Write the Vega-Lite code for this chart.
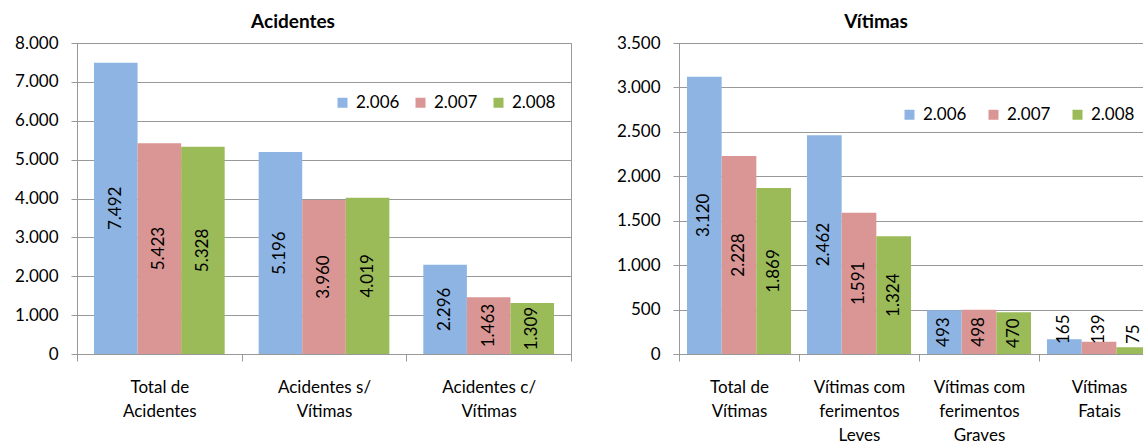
{
  "$schema": "https://vega.github.io/schema/vega-lite/v6.json",
  "background": "white",
  "padding": {"left": 14, "top": 12, "right": 0, "bottom": 0},
  "bounds": "flush",
  "spacing": 108,
  "datasets": {
    "acidentes": [
      {"cat": "Total de\nAcidentes", "ano": 2006, "v": 7492},
      {"cat": "Total de\nAcidentes", "ano": 2007, "v": 5423},
      {"cat": "Total de\nAcidentes", "ano": 2008, "v": 5328},
      {"cat": "Acidentes s/\nVítimas", "ano": 2006, "v": 5196},
      {"cat": "Acidentes s/\nVítimas", "ano": 2007, "v": 3960},
      {"cat": "Acidentes s/\nVítimas", "ano": 2008, "v": 4019},
      {"cat": "Acidentes c/\nVítimas", "ano": 2006, "v": 2296},
      {"cat": "Acidentes c/\nVítimas", "ano": 2007, "v": 1463},
      {"cat": "Acidentes c/\nVítimas", "ano": 2008, "v": 1309}
    ],
    "vitimas": [
      {"cat": "Total de\nVítimas", "ano": 2006, "v": 3120},
      {"cat": "Total de\nVítimas", "ano": 2007, "v": 2228},
      {"cat": "Total de\nVítimas", "ano": 2008, "v": 1869},
      {"cat": "Vítimas com\nferimentos\nLeves", "ano": 2006, "v": 2462},
      {"cat": "Vítimas com\nferimentos\nLeves", "ano": 2007, "v": 1591},
      {"cat": "Vítimas com\nferimentos\nLeves", "ano": 2008, "v": 1324},
      {"cat": "Vítimas com\nferimentos\nGraves", "ano": 2006, "v": 493},
      {"cat": "Vítimas com\nferimentos\nGraves", "ano": 2007, "v": 498},
      {"cat": "Vítimas com\nferimentos\nGraves", "ano": 2008, "v": 470},
      {"cat": "Vítimas\nFatais", "ano": 2006, "v": 165},
      {"cat": "Vítimas\nFatais", "ano": 2007, "v": 139},
      {"cat": "Vítimas\nFatais", "ano": 2008, "v": 75}
    ]
  },
  "config": {
    "locale": {"number": {"decimal": ",", "thousands": ".", "grouping": [3], "currency": ["R$", ""]}},
    "font": "Lato",
    "view": {"stroke": "#999999", "strokeWidth": 1},
    "axis": {
      "labelFont": "Lato",
      "labelFontSize": 17,
      "labelColor": "#000000",
      "domainColor": "#999999",
      "tickColor": "#999999",
      "gridColor": "#999999",
      "gridOpacity": 1
    },
    "title": {"font": "Lato", "fontSize": 19, "fontWeight": "bold", "color": "#000000", "anchor": "middle", "offset": 2},
    "legend": {
      "labelFont": "Lato",
      "labelFontSize": 17,
      "labelColor": "#000000",
      "symbolType": "square",
      "symbolSize": 100,
      "symbolStrokeWidth": 0,
      "labelOffset": 5
    }
  },
  "resolve": {"scale": {"color": "independent", "xOffset": "independent"}},
  "hconcat": [
    {
      "width": 494,
      "height": 311,
      "title": {"text": "Acidentes", "dx": -31},
      "data": {"name": "acidentes"},
      "encoding": {
        "x": {
          "field": "cat", "type": "nominal", "sort": null,
          "scale": {"paddingInner": 0, "paddingOuter": 0},
          "axis": {"title": null, "labelAngle": 0, "tickBand": "extent", "tickSize": 7, "labelPadding": 18, "labelBaseline": "top", "labelLineHeight": 24, "labelExpr": "split(datum.label, '\\n')", "grid": false}
        },
        "xOffset": {"field": "ano", "type": "nominal", "scale": {"paddingInner": 0, "paddingOuter": 0.39}}
      },
      "layer": [
        {
          "mark": {"type": "bar"},
          "encoding": {
            "y": {"field": "v", "type": "quantitative", "scale": {"domain": [0, 8000]},
              "axis": {"title": null, "values": [0, 1000, 2000, 3000, 4000, 5000, 6000, 7000, 8000], "format": ",d", "grid": true, "tickSize": 6, "labelPadding": 13, "minExtent": 62, "maxExtent": 62}},
            "color": {"field": "ano", "type": "nominal",
              "scale": {"domain": [2006, 2007, 2008], "range": ["#8DB4E2", "#D99694", "#9BBB59"]},
              "legend": {"orient": "none", "legendX": 257, "legendY": 51, "direction": "horizontal", "title": null, "columnPadding": 12, "labelExpr": "format(datum.value, ',d')"}}
          }
        },
        {
          "mark": {"type": "text", "angle": 270, "align": "center", "baseline": "middle", "fontSize": 17, "font": "Lato", "color": "#000000"},
          "encoding": {
            "y": {"field": "v", "type": "quantitative", "scale": {"domain": [0, 16000]}, "axis": null},
            "text": {"field": "v", "type": "quantitative", "format": ",d"}
          }
        }
      ],
      "resolve": {"scale": {"y": "independent"}}
    },
    {
      "width": 480,
      "height": 311,
      "title": {"text": "Vítimas", "dx": -43},
      "data": {"name": "vitimas"},
      "encoding": {
        "x": {
          "field": "cat", "type": "nominal", "sort": null,
          "scale": {"paddingInner": 0, "paddingOuter": 0},
          "axis": {"title": null, "labelAngle": 0, "tickBand": "extent", "tickSize": 7, "labelPadding": 18, "labelBaseline": "top", "labelLineHeight": 24, "labelExpr": "split(datum.label, '\\n')", "grid": false}
        },
        "xOffset": {"field": "ano", "type": "nominal", "scale": {"paddingInner": 0, "paddingOuter": 0.23}}
      },
      "layer": [
        {
          "mark": {"type": "bar"},
          "encoding": {
            "y": {"field": "v", "type": "quantitative", "scale": {"domain": [0, 3500]},
              "axis": {"title": null, "values": [0, 500, 1000, 1500, 2000, 2500, 3000, 3500], "format": ",d", "grid": true, "tickSize": 6, "labelPadding": 13, "minExtent": 62, "maxExtent": 62}},
            "color": {"field": "ano", "type": "nominal",
              "scale": {"domain": [2006, 2007, 2008], "range": ["#8DB4E2", "#D99694", "#9BBB59"]},
              "legend": {"orient": "none", "legendX": 222, "legendY": 63, "direction": "horizontal", "title": null, "columnPadding": 18, "labelExpr": "format(datum.value, ',d')"}}
          }
        },
        {
          "transform": [{"filter": {"field": "v", "gte": 300}}],
          "mark": {"type": "text", "angle": 270, "align": "center", "baseline": "middle", "fontSize": 17, "font": "Lato", "color": "#000000"},
          "encoding": {
            "y": {"field": "v", "type": "quantitative", "scale": {"domain": [0, 7000]}, "axis": null},
            "text": {"field": "v", "type": "quantitative", "format": ",d"}
          }
        },
        {
          "transform": [{"filter": {"field": "v", "lt": 300}}],
          "mark": {"type": "text", "angle": 270, "align": "left", "baseline": "middle", "dx": 10, "fontSize": 17, "font": "Lato", "color": "#000000"},
          "encoding": {
            "y": {"datum": 0, "type": "quantitative", "scale": {"domain": [0, 3500]}, "axis": null},
            "text": {"field": "v", "type": "quantitative", "format": ",d"}
          }
        }
      ],
      "resolve": {"scale": {"y": "independent"}}
    }
  ]
}
